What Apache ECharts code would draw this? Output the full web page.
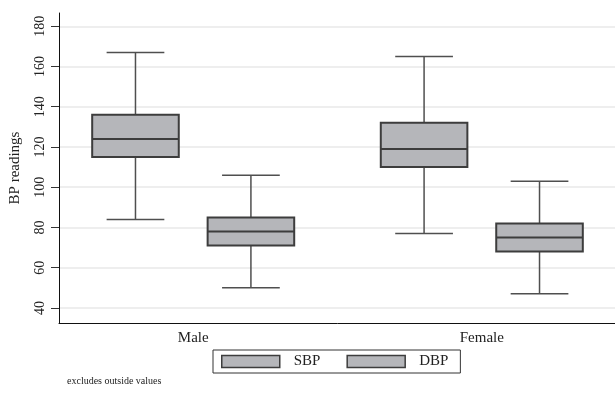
<!DOCTYPE html>
<html>
<head>
<meta charset="utf-8">
<script src="https://cdn.jsdelivr.net/npm/echarts@6/dist/echarts.min.js"></script>
<style>
  html, body { margin: 0; padding: 0; background: #fff; }
  #chart { width: 615px; height: 395px; }
</style>
</head>
<body>
<div id="chart"></div>
<script>
// Groups along the x axis
const categories = ['Male', 'Female'];
const seriesNames = ['SBP', 'DBP'];

// Box statistics per group: [lower whisker, Q1, median, Q3, upper whisker]
const sbpStats = [
  [84, 115, 124, 136, 167],
  [77, 110, 119, 132, 165]
];
const dbpStats = [
  [50, 71, 78, 85, 106],
  [47, 68, 75, 82, 103]
];

// Y axis tick values
const yTicks = [40, 60, 80, 100, 120, 140, 160, 180];

// Layout (axis units): group i sits at i + 1, series offset within the group
const seriesOffset = [-0.2, 0.2];
const boxWidth = 0.3;
const capWidth = 0.2;

const FONT = '"Liberation Serif", "DejaVu Serif", serif';
const BOX_FILL = '#b5b6ba';
const BOX_EDGE = '#3d3d3d';
const WHISKER = '#4f4f4f';

function buildData(stats, offset) {
  return stats.map((s, i) => [i + 1 + offset, s[0], s[1], s[2], s[3], s[4]]);
}

function renderBox(params, api) {
  const x = api.value(0);
  const lo = api.coord([x, api.value(1)]);
  const q1 = api.coord([x, api.value(2)]);
  const med = api.coord([x, api.value(3)]);
  const q3 = api.coord([x, api.value(4)]);
  const hi = api.coord([x, api.value(5)]);
  const bw = api.size([boxWidth, 0])[0];
  const cw = api.size([capWidth, 0])[0];
  const cx = q1[0];
  const whiskerStyle = { stroke: WHISKER, lineWidth: 1.5, fill: null };
  const edgeStyle = { stroke: BOX_EDGE, lineWidth: 2 };
  return {
    type: 'group',
    children: [
      { type: 'line', shape: { x1: cx, y1: hi[1], x2: cx, y2: q3[1] }, style: whiskerStyle },
      { type: 'line', shape: { x1: cx, y1: q1[1], x2: cx, y2: lo[1] }, style: whiskerStyle },
      { type: 'line', shape: { x1: cx - cw / 2, y1: hi[1], x2: cx + cw / 2, y2: hi[1] }, style: whiskerStyle },
      { type: 'line', shape: { x1: cx - cw / 2, y1: lo[1], x2: cx + cw / 2, y2: lo[1] }, style: whiskerStyle },
      {
        type: 'rect',
        shape: { x: cx - bw / 2, y: q3[1], width: bw, height: q1[1] - q3[1] },
        style: { fill: BOX_FILL, stroke: BOX_EDGE, lineWidth: 2 }
      },
      { type: 'line', shape: { x1: cx - bw / 2, y1: med[1], x2: cx + bw / 2, y2: med[1] }, style: edgeStyle }
    ]
  };
}

const chart = echarts.init(document.getElementById('chart'), null, { renderer: 'canvas' });

chart.setOption({
  backgroundColor: '#ffffff',
  animation: false,
  title: {
    text: 'excludes outside values',
    left: 62,
    top: 371,
    textStyle: { fontFamily: FONT, fontSize: 10, fontWeight: 'normal', color: '#222' }
  },
  legend: {
    data: seriesNames.map(n => ({
      name: n,
      icon: 'rect',
      itemStyle: { color: BOX_FILL, borderColor: BOX_EDGE, borderWidth: 1.5 }
    })),
    left: 213,
    top: 350,
    width: 260,
    itemWidth: 58,
    itemHeight: 12,
    itemGap: 26,
    padding: [4, 12, 4, 8],
    borderColor: '#333',
    borderWidth: 1,
    textStyle: { fontFamily: FONT, fontSize: 15, color: '#222', padding: [0, 0, 0, 9] }
  },
  grid: { left: 59, right: -1, top: 13, bottom: 72, outerBoundsMode: 'none', containLabel: false },
  xAxis: {
    type: 'value',
    min: 0.535,
    max: 2.465,
    axisLine: { show: true, lineStyle: { color: '#111', width: 1 } },
    axisTick: { show: false },
    splitLine: { show: false },
    axisLabel: {
      customValues: categories.map((c, i) => i + 1),
      formatter: v => categories[Math.round(v) - 1] || '',
      margin: 8,
      fontFamily: FONT,
      fontSize: 15,
      color: '#222'
    }
  },
  yAxis: {
    type: 'value',
    min: 32.5,
    max: 186.6,
    name: 'BP readings',
    nameLocation: 'middle',
    nameRotate: 90,
    nameGap: 36,
    nameTextStyle: { fontFamily: FONT, fontSize: 15, color: '#222' },
    axisLine: { show: true, lineStyle: { color: '#111', width: 1 } },
    axisTick: { show: true, length: 8, customValues: yTicks, lineStyle: { color: '#333' } },
    splitLine: { show: true, lineStyle: { color: '#e9e9e9', width: 1.5 } },
    axisLabel: {
      customValues: yTicks,
      rotate: 90,
      margin: 12,
      fontFamily: FONT,
      fontSize: 14,
      color: '#222'
    }
  },
  series: [
    {
      name: seriesNames[0],
      type: 'custom',
      renderItem: renderBox,
      itemStyle: { color: BOX_FILL },
      encode: { x: 0, y: [1, 2, 3, 4, 5] },
      data: buildData(sbpStats, seriesOffset[0])
    },
    {
      name: seriesNames[1],
      type: 'custom',
      renderItem: renderBox,
      itemStyle: { color: BOX_FILL },
      encode: { x: 0, y: [1, 2, 3, 4, 5] },
      data: buildData(dbpStats, seriesOffset[1])
    }
  ]
});
</script>
</body>
</html>
